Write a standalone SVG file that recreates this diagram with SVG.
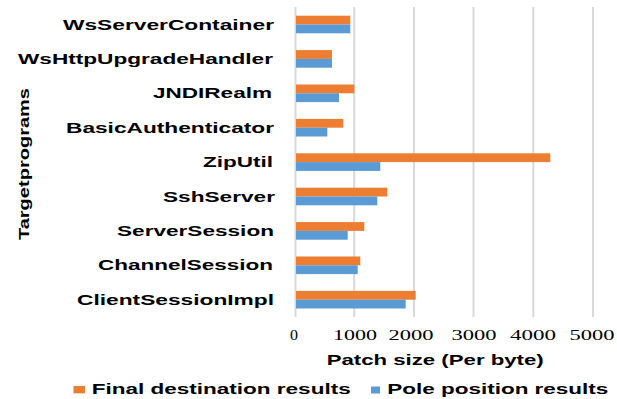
<svg xmlns="http://www.w3.org/2000/svg" width="617" height="399" viewBox="0 0 617 399">
  <style>
    .grid { stroke: #d9d9d9; stroke-width: 2; }
    .fin { fill: #ed7d31; }
    .pole { fill: #5b9bd5; }
    .cat { font-family: "Liberation Sans", Arial, sans-serif; font-weight: bold; font-size: 15px; fill: #000; text-anchor: end; }
    .tick { font-family: "Liberation Serif", "Times New Roman", serif; font-size: 14px; fill: #000; text-anchor: middle; }
    .title { font-family: "Liberation Sans", Arial, sans-serif; font-weight: bold; font-size: 15px; fill: #000; }
  </style>
  <rect width="617" height="399" fill="#fff"/>

  <!-- vertical gridlines, one per 1000 bytes -->
  <g id="gridlines">
    <line class="grid" x1="295.5" y1="7" x2="295.5" y2="317"/>
    <line class="grid" x1="354.2" y1="7" x2="354.2" y2="317"/>
    <line class="grid" x1="414" y1="7" x2="414" y2="317"/>
    <line class="grid" x1="473.5" y1="7" x2="473.5" y2="317"/>
    <line class="grid" x1="533.3" y1="7" x2="533.3" y2="317"/>
    <line class="grid" x1="593" y1="7" x2="593" y2="317"/>
  </g>

  <!-- bars: orange = final destination, blue = pole position -->
  <g id="bars">
    <g id="WsServerContainer">
      <rect class="fin" x="296" y="15.7" width="54.3" height="8.8"/>
      <rect class="pole" x="296" y="24.5" width="54.3" height="8.8"/>
    </g>
    <g id="WsHttpUpgradeHandler">
      <rect class="fin" x="296" y="50.1" width="36" height="8.8"/>
      <rect class="pole" x="296" y="58.9" width="36" height="8.8"/>
    </g>
    <g id="JNDIRealm">
      <rect class="fin" x="296" y="84.5" width="58.3" height="8.8"/>
      <rect class="pole" x="296" y="93.3" width="43" height="8.8"/>
    </g>
    <g id="BasicAuthenticator">
      <rect class="fin" x="296" y="118.9" width="47.3" height="8.8"/>
      <rect class="pole" x="296" y="127.7" width="31.3" height="8.8"/>
    </g>
    <g id="ZipUtil">
      <rect class="fin" x="296" y="153.3" width="254.3" height="8.8"/>
      <rect class="pole" x="296" y="162.1" width="84.3" height="8.8"/>
    </g>
    <g id="SshServer">
      <rect class="fin" x="296" y="187.7" width="91.3" height="8.8"/>
      <rect class="pole" x="296" y="196.5" width="81.3" height="8.8"/>
    </g>
    <g id="ServerSession">
      <rect class="fin" x="296" y="222.1" width="68.3" height="8.8"/>
      <rect class="pole" x="296" y="230.9" width="51.7" height="8.8"/>
    </g>
    <g id="ChannelSession">
      <rect class="fin" x="296" y="256.5" width="64.3" height="8.8"/>
      <rect class="pole" x="296" y="265.3" width="61.7" height="8.8"/>
    </g>
    <g id="ClientSessionImpl">
      <rect class="fin" x="296" y="290.9" width="119.7" height="8.8"/>
      <rect class="pole" x="296" y="299.7" width="109.7" height="8.8"/>
    </g>
  </g>

  <!-- category labels -->
  <g id="category-labels">
    <text class="cat" x="274" y="29.5" textLength="211" lengthAdjust="spacingAndGlyphs">WsServerContainer</text>
    <text class="cat" x="273" y="63.9" textLength="255" lengthAdjust="spacingAndGlyphs">WsHttpUpgradeHandler</text>
    <text class="cat" x="272" y="98.3" textLength="119" lengthAdjust="spacingAndGlyphs">JNDIRealm</text>
    <text class="cat" x="274" y="132.7" textLength="208" lengthAdjust="spacingAndGlyphs">BasicAuthenticator</text>
    <text class="cat" x="273" y="167.1" textLength="70" lengthAdjust="spacingAndGlyphs">ZipUtil</text>
    <text class="cat" x="275" y="201.5" textLength="112" lengthAdjust="spacingAndGlyphs">SshServer</text>
    <text class="cat" x="274" y="235.9" textLength="157" lengthAdjust="spacingAndGlyphs">ServerSession</text>
    <text class="cat" x="273" y="270.3" textLength="175" lengthAdjust="spacingAndGlyphs">ChannelSession</text>
    <text class="cat" x="274" y="304.7" textLength="197" lengthAdjust="spacingAndGlyphs">ClientSessionImpl</text>
  </g>

  <!-- x-axis tick labels -->
  <g id="tick-labels">
    <text class="tick" x="294" y="340" textLength="8" lengthAdjust="spacingAndGlyphs">0</text>
    <text class="tick" x="355" y="340" textLength="44" lengthAdjust="spacingAndGlyphs">1000</text>
    <text class="tick" x="411" y="340" textLength="45" lengthAdjust="spacingAndGlyphs">2000</text>
    <text class="tick" x="474" y="340" textLength="45" lengthAdjust="spacingAndGlyphs">3000</text>
    <text class="tick" x="533" y="340" textLength="46" lengthAdjust="spacingAndGlyphs">4000</text>
    <text class="tick" x="592" y="340" textLength="45" lengthAdjust="spacingAndGlyphs">5000</text>
  </g>

  <!-- axis titles -->
  <g id="axis-titles">
    <text class="title" x="326.7" y="365" textLength="217" lengthAdjust="spacingAndGlyphs">Patch size (Per byte)</text>
    <text class="title" font-size="20" text-anchor="middle" word-spacing="-4" transform="translate(29 164) rotate(-90)" textLength="152" lengthAdjust="spacingAndGlyphs">Target programs</text>
  </g>

  <!-- legend -->
  <g id="legend">
    <rect class="fin" x="73.5" y="386" width="11.5" height="7.3"/>
    <text class="title" x="91.7" y="394.3" textLength="259" lengthAdjust="spacingAndGlyphs">Final destination results</text>
    <rect class="pole" x="371" y="386.5" width="9" height="7"/>
    <text class="title" x="387.3" y="394.3" textLength="221" lengthAdjust="spacingAndGlyphs">Pole position results</text>
  </g>
</svg>
